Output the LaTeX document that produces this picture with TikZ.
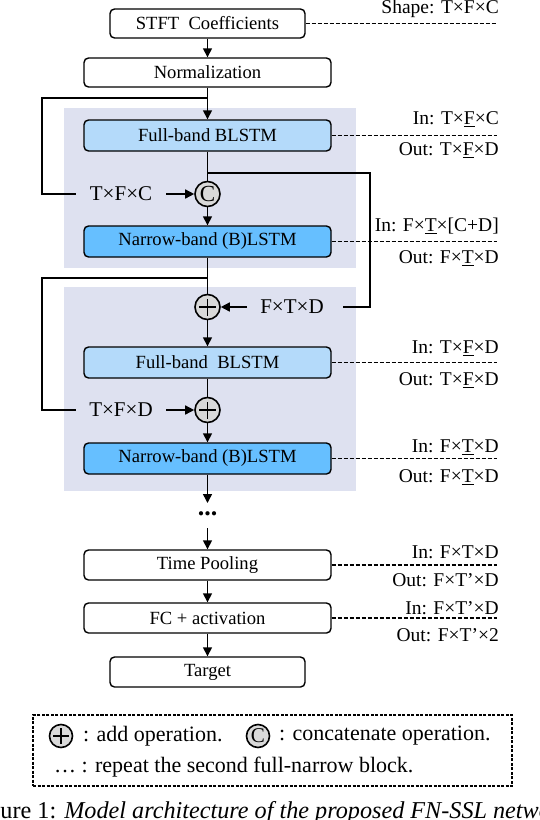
\documentclass[tikz,border=0pt]{standalone}
\usepackage{fontspec}
\setmainfont{Liberation Serif}
\usetikzlibrary{arrows.meta,calc}
\definecolor{fbblue}{RGB}{180,218,250}
\definecolor{nbblue}{RGB}{102,191,255}
\definecolor{bggray}{RGB}{222,225,240}
\definecolor{opgray}{RGB}{217,217,217}
\begin{document}
\begin{tikzpicture}[x=1pt,y=-1pt,
  box/.style={draw, line width=1.4pt, rounded corners=4.5pt, minimum height=30pt, minimum width=247pt, inner sep=0pt, font=\fontsize{18.6}{20}\selectfont},
  smallbox/.style={box, minimum width=195pt},
  lab/.style={anchor=east, inner sep=0pt, font=\fontsize{19.5}{21}\selectfont},
  side/.style={inner sep=0pt, font=\fontsize{21}{23}\selectfont},
  dsh/.style={line width=1.5pt, dash pattern=on 4pt off 2pt},
  wire/.style={line width=1.5pt},
  arr/.style={wire, -{Triangle[length=9pt,width=9pt]}},
  op/.style={circle, draw, line width=1.6pt, fill=opgray, minimum size=25pt, inner sep=0pt},
  plusbar/.style={line width=1.2pt},
  legtext/.style={anchor=west, inner sep=0pt, font=\fontsize{22}{24}\selectfont}
]
\useasboundingbox (0,0) rectangle (540,820);
% backgrounds
\fill[bggray] (64,108) rectangle (356,268);
\fill[bggray] (64,287) rectangle (356,491);

% main nodes
\node[smallbox, minimum height=29pt] (stft) at (207.5,23.5) {STFT~~Coefficients};
\node[box, minimum height=29pt] (norm) at (207.5,72.5) {Normalization};
\node[box, fill=fbblue, minimum height=31pt] (fb1) at (207.5,135.5) {Full-band BLSTM};
\node[op, font=\fontsize{23}{23}\selectfont] (cat) at (207.5,194) {C};
\node[box, fill=nbblue, minimum height=31pt] (nb1) at (207.5,241.5) {Narrow-band (B)LSTM};
\node[op] (add1) at (207.5,307) {};
\node[box, fill=fbblue, minimum height=31pt] (fb2) at (207.5,362.5) {Full-band~~BLSTM};
\node[op] (add2) at (207.5,410) {};
\node[box, fill=nbblue, minimum height=31pt] (nb2) at (207.5,458.5) {Narrow-band (B)LSTM};
\node[inner sep=0pt, font=\fontsize{26}{26}\selectfont\bfseries] (dots) at (207.5,514) {...};
\node[box] (tp) at (207.5,565) {Time Pooling};
\node[box] (fc) at (207.5,618) {FC + activation};
\node[smallbox] (tgt) at (207.5,672) {Target};

% plus marks
\foreach \n in {add1,add2}{
  \draw[plusbar] ([xshift=-8.5pt]\n.center) -- ([xshift=8.5pt]\n.center);
  \draw[plusbar] ([yshift=-8.5pt]\n.center) -- ([yshift=8.5pt]\n.center);
}

% side texts
\node[side] (s1) at (121,194) {T×F×C};
\node[side] (s2) at (292,307) {F×T×D};
\node[side] (s3) at (121,410) {T×F×D};

% coordinates
\coordinate (j0) at (207.5,98);
\coordinate (j1) at (207.5,173);
\coordinate (j2) at (207.5,278);
\coordinate (e1) at (207.5,503);
\coordinate (e2) at (207.5,528);
\coordinate (l1a) at (42,98);
\coordinate (l1b) at (42,194);
\coordinate (l1c) at (76,194);
\coordinate (l1d) at (166,194);
\coordinate (r1a) at (370,173);
\coordinate (r1b) at (370,307);
\coordinate (r1c) at (343,307);
\coordinate (r1d) at (247,307);
\coordinate (l2a) at (42,278);
\coordinate (l2b) at (42,410);
\coordinate (l2c) at (76,410);
\coordinate (l2d) at (166,410);

% spine
\draw[arr] (stft) -- (norm);
\draw[arr] (norm) -- (fb1);
\draw[wire] (fb1) -- (cat);
\draw[arr] (cat) -- (nb1);
\draw[wire] (nb1) -- (add1);
\draw[arr] (add1) -- (fb2);
\draw[wire] (fb2) -- (add2);
\draw[arr] (add2) -- (nb2);
\draw[arr] (nb2) -- (e1);
\draw[arr] (e2) -- (tp);
\draw[arr] (tp) -- (fc);
\draw[arr] (fc) -- (tgt);

% skip loops
\draw[wire] (j0) -- (l1a) -- (l1b) -- (l1c);
\draw[arr] (l1d) -- (cat);
\draw[wire] (j1) -- (r1a) -- (r1b) -- (r1c);
\draw[arr] (r1d) -- (add1);
\draw[wire] (j2) -- (l2a) -- (l2b) -- (l2c);
\draw[arr] (l2d) -- (add2);

% dashed shape lines
\coordinate (d0) at (497,23.5);
\draw[dsh] (stft.east) -- (d0);
\foreach \n in {fb1,nb1,fb2,nb2,tp,fc}{
  \draw[dsh] (\n.east) -- (\n.east -| d0);
}

% shape labels
\node[lab] (ls) at (499,9) {Shape: T×F×C};
\node[lab] (l1i) at (499,119) {In: T×\underline{F}×C};
\node[lab] (l1o) at (499,150) {Out: T×\underline{F}×D};
\node[lab] (l2i) at (499,226) {In: F×\underline{T}×[C+D]};
\node[lab] (l2o) at (499,258) {Out: F×\underline{T}×D};
\node[lab] (l3i) at (499,348) {In: T×\underline{F}×D};
\node[lab] (l3o) at (499,380) {Out: T×\underline{F}×D};
\node[lab] (l4i) at (499,447) {In: F×\underline{T}×D};
\node[lab] (l4o) at (499,477) {Out: F×\underline{T}×D};
\node[lab] (l5i) at (499,552) {In: F×T×D};
\node[lab] (l5o) at (499,580) {Out: F×T’×D};
\node[lab] (l6i) at (499,608) {In: F×T’×D};
\node[lab] (l6o) at (499,635) {Out: F×T’×2};

% legend
\node[draw, line width=1.2pt, dash pattern=on 3pt off 1.5pt, minimum width=479pt, minimum height=71pt, inner sep=0pt] (legend) at (272.5,750.5) {};
\node[op, minimum size=23pt, line width=1.6pt] (ladd) at (61,736) {};
\draw[plusbar] ([xshift=-8pt]ladd.center) -- ([xshift=8pt]ladd.center);
\draw[plusbar] ([yshift=-8pt]ladd.center) -- ([yshift=8pt]ladd.center);
\node[legtext] (ladt) at (83,736) {: add operation.};
\node[op, minimum size=23pt, line width=1.6pt, font=\fontsize{21}{21}\selectfont] (lcat) at (258,736) {C};
\node[legtext] (lcatt) at (279,736) {: concatenate operation.};
\node[legtext] (lrep) at (54,767) {\ldots{} : repeat the second full-narrow block.};

% caption
\node[anchor=base west, inner sep=0pt, font=\fontsize{24.2}{26}\selectfont] (cap) at (-32,818) {Figure 1: \textit{Model architecture of the proposed FN-SSL network.}};
\end{tikzpicture}
\end{document}
